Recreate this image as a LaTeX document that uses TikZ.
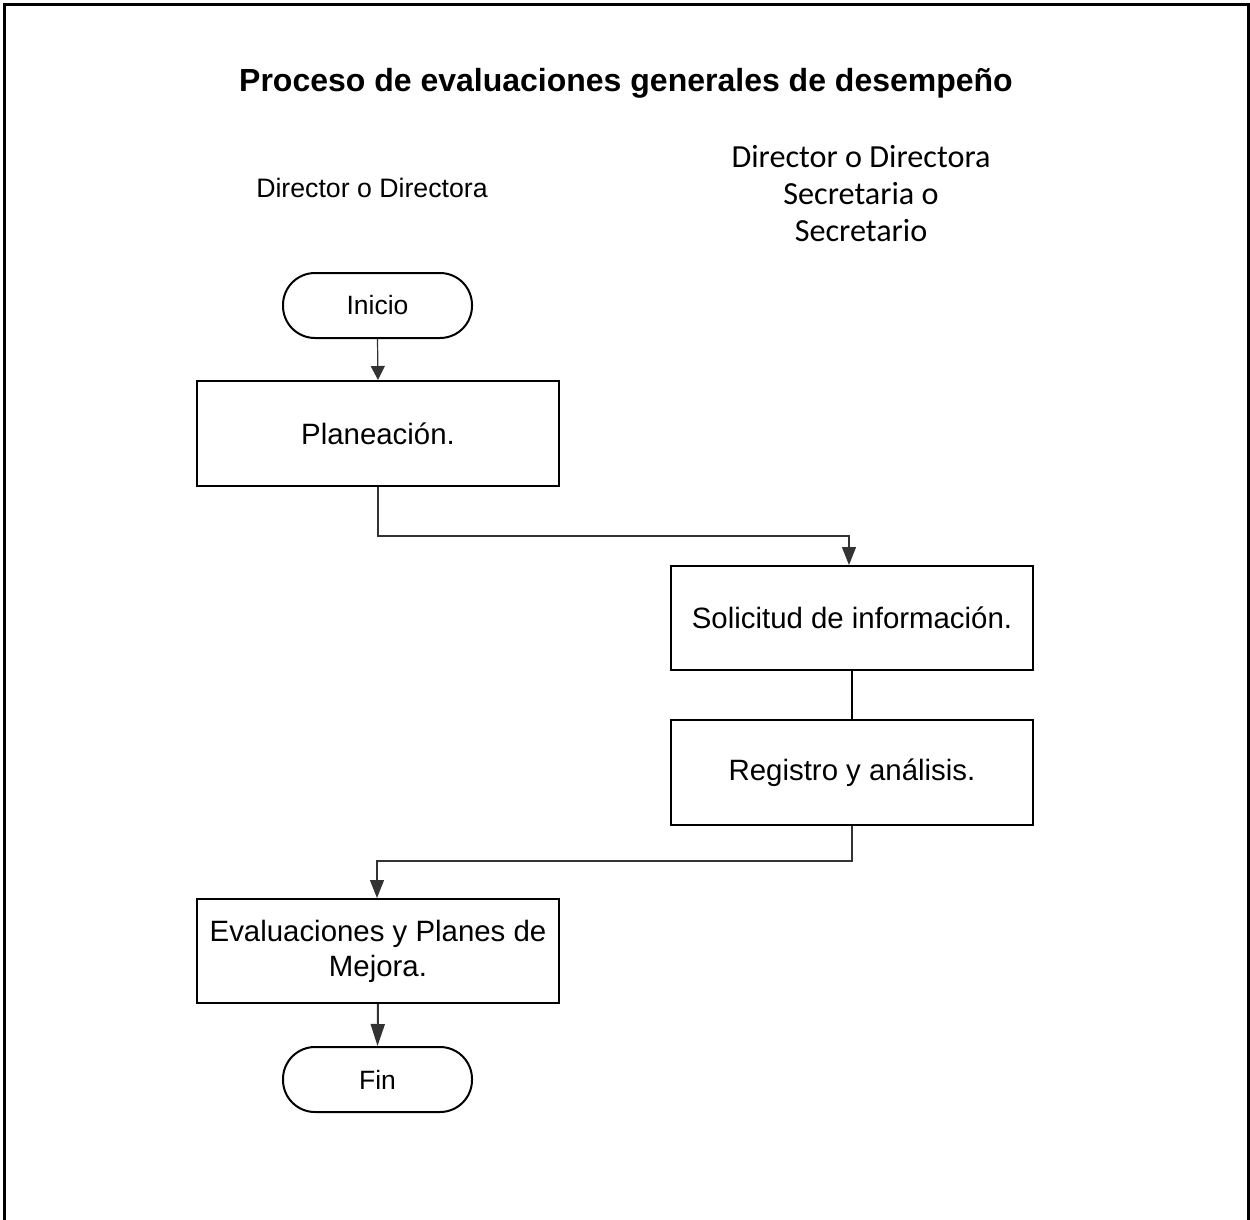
\documentclass[tikz,border=0pt]{standalone}
\usepackage{fontspec}
\setmainfont{Liberation Sans}
\newfontfamily\calibrifont{Carlito}
\usetikzlibrary{arrows.meta}
\tikzset{
  procbox/.style={draw, line width=2pt, minimum width=362pt, minimum height=105pt, align=center, inner sep=0pt},
  termbox/.style={draw, line width=2pt, minimum width=189pt, minimum height=65pt, rounded corners=32pt, inner sep=0pt, font=\fontsize{26.5}{32}\selectfont},
  conn/.style={line width=1.2pt, draw=black!80},
  arr/.style={conn, -{Triangle[length=18pt,width=14pt]}},
  boxfont/.style={font=\fontsize{29.4}{35}\selectfont},
}
\begin{document}
\begin{tikzpicture}[x=1pt,y=-1pt]
\useasboundingbox (0,0) rectangle (1250,1219);
\draw[line width=3pt] (4,1230) -- (4,4) -- (1248,4) -- (1248,1230);

\node[font=\bfseries\fontsize{32}{38}\selectfont] (title) at (626,83) {Proceso de evaluaciones generales de desempeño};
\node[font=\fontsize{26.7}{32}\selectfont] (lane1) at (372,188) {Director o Directora};
\node[font=\calibrifont\fontsize{32.2}{37}\selectfont, align=center] (lane2) at (861,194) {Director o Directora\\Secretaria o\\Secretario};

\node[termbox] (inicio) at (377.5,305.5) {Inicio};
\node[procbox, boxfont] (plan) at (378,433.5) {Planeación.};
\node[procbox, boxfont, minimum height=104pt] (sol) at (852,618) {Solicitud de información.};
\node[procbox, boxfont] (reg) at (852,772.5) {Registro y análisis.};
\node[procbox, boxfont, minimum height=104pt] (eval) at (378,951) {Evaluaciones y Planes de\\Mejora.};
\node[termbox] (fin) at (377.5,1079.5) {Fin};

\draw[arr, -{Triangle[length=14pt,width=14pt]}] (inicio.south) -- (plan.north);
\draw[arr] (plan.south) -- ++(0,49) -| ([xshift=-3pt]sol.north);
\draw[line width=2pt] (sol.south) -- (reg.north);
\draw[arr] (reg.south) -- ++(0,35) -| ([xshift=-1pt]eval.north);
\draw[arr, line width=2pt, -{Triangle[length=22pt,width=14pt]}] (eval.south) -- (fin.north);
\end{tikzpicture}
\end{document}
